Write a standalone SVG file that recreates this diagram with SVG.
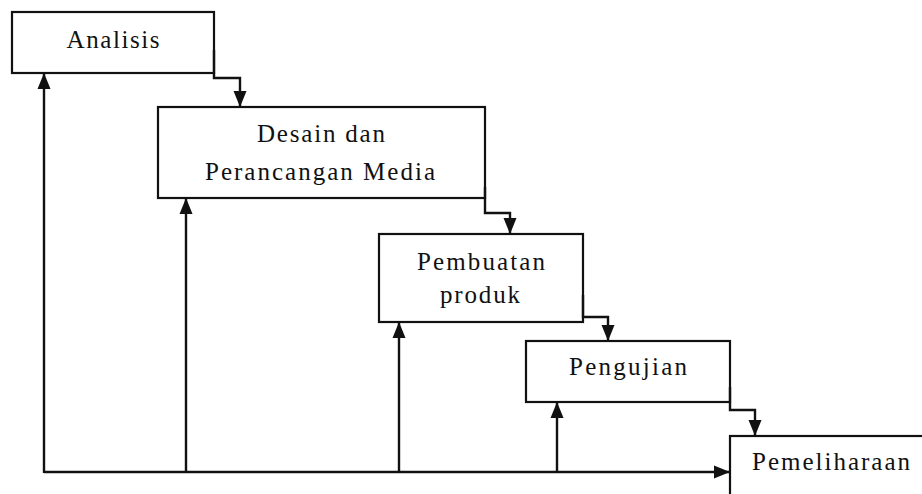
<svg xmlns="http://www.w3.org/2000/svg" width="922" height="494" viewBox="0 0 922 494">
<style>
.box{fill:#fff;stroke:#111;stroke-width:2.2}
.lbl{font-size:25px;fill:#111;text-anchor:middle}
.con{fill:none;stroke:#111;stroke-width:2.4}
</style>
<defs>
<marker id="ah" markerUnits="userSpaceOnUse" markerWidth="16" markerHeight="16" viewBox="0 0 16 16" refX="16" refY="8" orient="auto">
<path d="M0,1.5 L16,8 L0,14.5 Z" fill="#111"/>
</marker>
</defs>
<rect width="922" height="494" fill="#fff"/>
<g id="analisis">
<rect class="box" x="12" y="12" width="202" height="61"/>
<text class="lbl" font-family="'Liberation Serif', 'Times New Roman', serif" x="113" y="48" textLength="93" lengthAdjust="spacing">Analisis</text>
</g>
<g id="desain">
<rect class="box" x="158" y="107" width="327" height="91"/>
<text class="lbl" font-family="'Liberation Serif', 'Times New Roman', serif" x="321" y="142" textLength="128" lengthAdjust="spacing">Desain dan</text>
<text class="lbl" font-family="'Liberation Serif', 'Times New Roman', serif" x="320" y="180" textLength="230" lengthAdjust="spacing">Perancangan Media</text>
</g>
<g id="pembuatan">
<rect class="box" x="379" y="234" width="204" height="88"/>
<text class="lbl" font-family="'Liberation Serif', 'Times New Roman', serif" x="481" y="270" textLength="128" lengthAdjust="spacing">Pembuatan</text>
<text class="lbl" font-family="'Liberation Serif', 'Times New Roman', serif" x="480" y="303" textLength="80" lengthAdjust="spacing">produk</text>
</g>
<g id="pengujian">
<rect class="box" x="526" y="341" width="204" height="61"/>
<text class="lbl" font-family="'Liberation Serif', 'Times New Roman', serif" x="628" y="375" textLength="118" lengthAdjust="spacing">Pengujian</text>
</g>
<g id="pemeliharaan">
<rect class="box" x="730" y="436" width="220" height="80"/>
<text class="lbl" font-family="'Liberation Serif', 'Times New Roman', serif" x="831" y="470" textLength="158" lengthAdjust="spacing">Pemeliharaan</text>
</g>
<g id="connectors">
<path class="con" d="M214,50 V78 H240 V107" marker-end="url(#ah)"/>
<path class="con" d="M485,187 V213 H510 V234" marker-end="url(#ah)"/>
<path class="con" d="M583,295 V317 H608 V341" marker-end="url(#ah)"/>
<path class="con" d="M730,387 V410 H755 V436" marker-end="url(#ah)"/>
<path class="con" d="M44,472 H730" marker-end="url(#ah)"/>
<path class="con" d="M44,473 V73" marker-end="url(#ah)"/>
<path class="con" d="M186,472 V198" marker-end="url(#ah)"/>
<path class="con" d="M399,472 V322" marker-end="url(#ah)"/>
<path class="con" d="M557,472 V402" marker-end="url(#ah)"/>
</g>
</svg>
